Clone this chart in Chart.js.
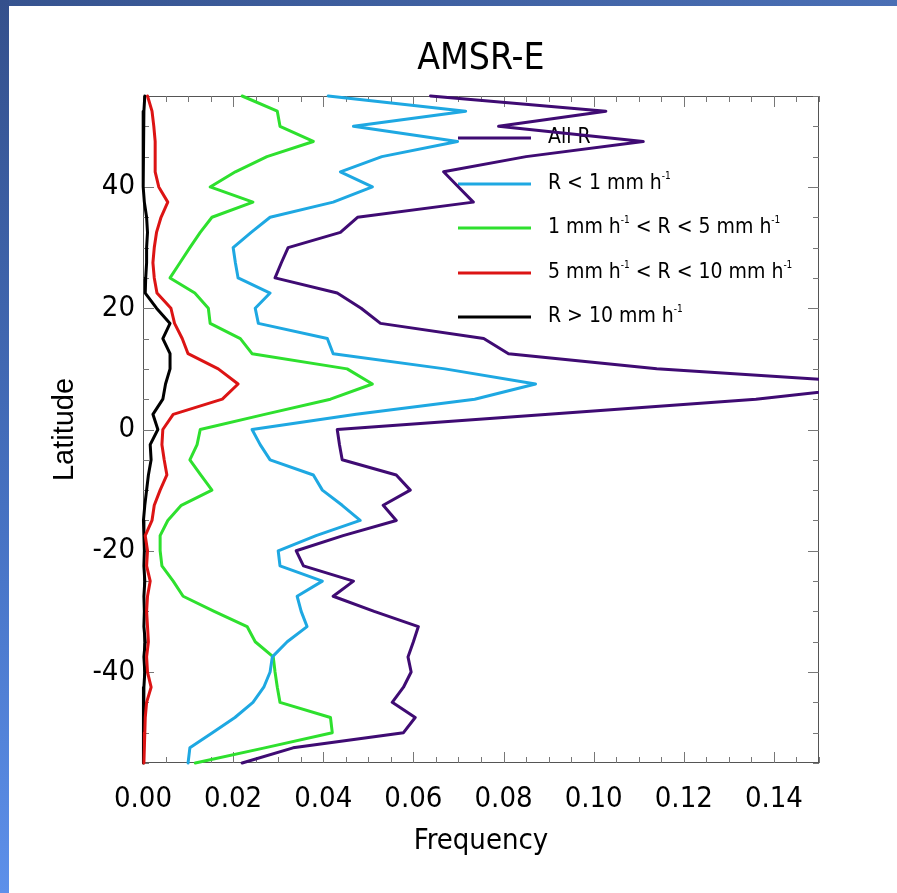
<!DOCTYPE html>
<html>
<head>
<meta charset="utf-8">
<script src="https://cdn.jsdelivr.net/npm/chart.js@4.4.1/dist/chart.umd.min.js"></script>
<style>
  html, body { margin: 0; padding: 0; background: #ffffff; overflow: hidden; }
  #wrap { position: relative; width: 897px; height: 893px; background: #ffffff; }
  #c { position: absolute; left: 0; top: 0; }
  #topbar { position: absolute; left: 0; top: 0; width: 897px; height: 6px; background: linear-gradient(90deg, #36538f, #4a6fb5); }
  #leftbar { position: absolute; left: 0; top: 0; width: 9px; height: 893px; background: linear-gradient(180deg, #34508c, #4773c4 60%, #5d90ea); }
</style>
</head>
<body>
<div id="wrap">
  <canvas id="c" width="897" height="893"></canvas>
  <div id="topbar"></div>
  <div id="leftbar"></div>
</div>
<script>
// ---- Data ----
const latitudes = [55, 52.5, 50, 47.5, 45, 42.5, 40, 37.5, 35, 32.5, 30, 27.5, 25, 22.5, 20, 17.5, 15, 12.5, 10, 7.5, 5, 2.5, 0,
  -2.5, -5, -7.5, -10, -12.5, -15, -17.5, -20, -22.5, -25, -27.5, -30, -32.5, -35, -37.5, -40, -42.5, -45, -47.5, -50, -52.5, -55];

const freqAllR = [0.0638, 0.1027, 0.0789, 0.1110, 0.0850, 0.0667, 0.0700, 0.0733, 0.0476, 0.0438, 0.0322, 0.0307, 0.0293, 0.0431, 0.0484,
  0.0527, 0.0756, 0.0811, 0.1140, 0.1670, 0.1360, 0.0900, 0.0431, 0.0436, 0.0442, 0.0562, 0.0593, 0.0533, 0.0562, 0.0444,
  0.0340, 0.0356, 0.0467, 0.0422, 0.0513, 0.0611, 0.0600, 0.0588, 0.0595, 0.0578, 0.0553, 0.0604, 0.0578, 0.0333, 0.0220];

const freqLt1 = [0.0411, 0.0716, 0.0467, 0.0698, 0.0530, 0.0438, 0.0509, 0.0422, 0.0282, 0.0240, 0.0200, 0.0205, 0.0211, 0.0282, 0.0249,
  0.0256, 0.0409, 0.0422, 0.0670, 0.0871, 0.0736, 0.0473, 0.0242, 0.0260, 0.0282, 0.0378, 0.0398, 0.0442, 0.0482, 0.0384,
  0.0300, 0.0304, 0.0398, 0.0342, 0.0351, 0.0364, 0.0320, 0.0287, 0.0282, 0.0268, 0.0244, 0.0204, 0.0154, 0.0104, 0.0100];

const freq1to5 = [0.0220, 0.0298, 0.0304, 0.0378, 0.0275, 0.0205, 0.0149, 0.0244, 0.0153, 0.0127, 0.0104, 0.0082, 0.0060, 0.0115, 0.0145,
  0.0149, 0.0216, 0.0242, 0.0453, 0.0509, 0.0416, 0.0270, 0.0127, 0.0120, 0.0104, 0.0128, 0.0153, 0.0085, 0.0055, 0.0038,
  0.0038, 0.0042, 0.0067, 0.0089, 0.0158, 0.0231, 0.0249, 0.0289, 0.0293, 0.0298, 0.0304, 0.0416, 0.0420, 0.0270, 0.0116];

const freq5to10 = [0.0010, 0.0020, 0.0024, 0.0027, 0.0027, 0.0027, 0.0035, 0.0055, 0.0040, 0.0030, 0.0025, 0.0022, 0.0025, 0.0031, 0.0062,
  0.0070, 0.0087, 0.0100, 0.0167, 0.0211, 0.0176, 0.0067, 0.0044, 0.0042, 0.0047, 0.0053, 0.0038, 0.0025, 0.0020, 0.0005,
  0.0010, 0.0008, 0.0016, 0.0010, 0.0008, 0.0010, 0.0012, 0.0008, 0.0010, 0.0018, 0.0008, 0.0005, 0.0004, 0.0003, 0.0002];

const freqGt10 = [0.0004, 0.0002, 0.0001, 0.0000, 0.0000, 0.0000, 0.0001, 0.0003, 0.0008, 0.0010, 0.0008, 0.0008, 0.0006, 0.0005, 0.0030,
  0.0060, 0.0044, 0.0060, 0.0060, 0.0050, 0.0044, 0.0022, 0.0033, 0.0016, 0.0018, 0.0012, 0.0008, 0.0004, 0.0001, 0.0002,
  0.0003, 0.0002, 0.0004, 0.0002, 0.0003, 0.0002, 0.0005, 0.0002, 0.0004, 0.0002, 0.0002, 0.0001, 0.0001, 0.0001, 0.0000];

const xTickValues = [0.00, 0.02, 0.04, 0.06, 0.08, 0.10, 0.12, 0.14];
const yTickValues = [-40, -20, 0, 20, 40];

const seriesNames = ['All R', 'R < 1 mm h-1', '1 mm h-1 < R < 5 mm h-1', '5 mm h-1 < R < 10 mm h-1', 'R > 10 mm h-1'];
// legend labels as [text, superscript?] segments
const legendLabels = [
  [['All R', false]],
  [['R < 1 mm h', false], ['-1', true]],
  [['1 mm h', false], ['-1', true], [' < R < 5 mm h', false], ['-1', true]],
  [['5 mm h', false], ['-1', true], [' < R < 10 mm h', false], ['-1', true]],
  [['R > 10 mm h', false], ['-1', true]]
];
const seriesColors = ['#3f0b73', '#1ea8e2', '#2ee02e', '#dc1414', '#000000'];

const FONT = "'Liberation Sans Narrow', 'Arial Narrow', 'DejaVu Sans Condensed', 'Liberation Sans', sans-serif";

const seriesValues = [freqAllR, freqLt1, freq1to5, freq5to10, freqGt10];

const datasets = seriesValues.map((vals, i) => ({
  label: seriesNames[i],
  data: vals.map((v, k) => ({ x: v, y: latitudes[k] })),
  showLine: true,
  borderColor: seriesColors[i],
  backgroundColor: seriesColors[i],
  borderWidth: 3,
  borderJoinStyle: 'round',
  borderCapStyle: 'round',
  pointRadius: 0,
  pointHoverRadius: 0,
  fill: false,
  tension: 0,
  clip: { left: 3, right: 0, top: 3, bottom: 3 }
}));

const decorPlugin = {
  id: 'decor',
  beforeDatasetsDraw(chart) {
    const ctx = chart.ctx;
    const a = chart.chartArea;
    const xs = chart.scales.x, ys = chart.scales.y;
    ctx.save();
    // frame
    ctx.strokeStyle = '#555555';
    ctx.lineWidth = 1;
    ctx.strokeRect(a.left + 0.5, a.top + 0.5, a.right - a.left - 1, a.bottom - a.top - 1);
    // x ticks (bottom & top, pointing inward)
    ctx.strokeStyle = '#777777';
    for (let k = 0; k <= 30; k++) {
      const v = k * 0.005;
      const px = Math.round(xs.getPixelForValue(v)) + 0.5;
      const major = (k % 4 === 0);
      const len = major ? 11 : 6;
      ctx.beginPath();
      ctx.moveTo(px, a.bottom); ctx.lineTo(px, a.bottom - len);
      ctx.moveTo(px, a.top); ctx.lineTo(px, a.top + len);
      ctx.stroke();
    }
    // y ticks (left & right, pointing inward)
    for (let k = -11; k <= 11; k++) {
      const v = k * 5;
      const py = Math.round(ys.getPixelForValue(v)) + 0.5;
      const major = (k % 4 === 0);
      const len = major ? 11 : 6;
      ctx.beginPath();
      ctx.moveTo(a.left, py); ctx.lineTo(a.left + len, py);
      ctx.moveTo(a.right, py); ctx.lineTo(a.right - len, py);
      ctx.stroke();
    }
    // legend (drawn beneath the data lines)
    const lx0 = 458, lx1 = 531, tx = 548;
    const rowY = [138, 184, 228, 273, 317];
    legendLabels.forEach((segs, i) => {
      const y = rowY[i];
      ctx.strokeStyle = seriesColors[i];
      ctx.lineWidth = 3;
      ctx.beginPath();
      ctx.moveTo(lx0, y); ctx.lineTo(lx1, y);
      ctx.stroke();
      let x = tx;
      ctx.fillStyle = '#000000';
      ctx.textAlign = 'left';
      ctx.textBaseline = 'middle';
      segs.forEach(([t, sup]) => {
        if (sup) {
          ctx.font = '10px ' + FONT;
          ctx.fillText(t, x, y - 8);
        } else {
          ctx.font = '21px ' + FONT;
          ctx.fillText(t, x, y);
        }
        x += ctx.measureText(t).width;
      });
    });
    ctx.restore();
  }
};

new Chart(document.getElementById('c'), {
  type: 'scatter',
  data: { datasets },
  options: {
    responsive: false,
    devicePixelRatio: 1,
    animation: false,
    events: [],
    layout: { padding: { left: 0, right: 78, top: 0, bottom: 0 } },
    plugins: {
      legend: { display: false },
      tooltip: { enabled: false },
      title: {
        display: true,
        text: 'AMSR-E',
        fullSize: false,
        color: '#000000',
        font: { family: FONT, size: 37, weight: 'normal', lineHeight: 1.2 },
        padding: { top: 37, bottom: 14.6 }
      }
    },
    scales: {
      x: {
        type: 'linear',
        position: 'bottom',
        min: 0,
        max: 0.15,
        afterBuildTicks: (s) => { s.ticks = xTickValues.map(v => ({ value: v })); },
        afterFit: (s) => { s.height = 130; },
        grid: { display: false, drawTicks: false },
        border: { display: false },
        ticks: {
          padding: 19,
          color: '#000000',
          font: { family: FONT, size: 29 },
          maxRotation: 0,
          autoSkip: false,
          callback: (v) => Number(v).toFixed(2)
        },
        title: {
          display: true,
          text: 'Frequency',
          color: '#000000',
          font: { family: FONT, size: 29 },
          padding: { top: 0, bottom: 34 }
        }
      },
      y: {
        type: 'linear',
        position: 'left',
        min: -55,
        max: 55,
        afterBuildTicks: (s) => { s.ticks = yTickValues.map(v => ({ value: v })); },
        afterFit: (s) => { s.width = 143; },
        grid: { display: false, drawTicks: false },
        border: { display: false },
        ticks: {
          padding: 8,
          color: '#000000',
          font: { family: FONT, size: 29 },
          autoSkip: false,
          callback: (v) => String(v)
        },
        title: {
          display: true,
          text: 'Latitude',
          color: '#000000',
          font: { family: "'Liberation Sans', Arial, sans-serif", size: 29 },
          padding: { top: 48, bottom: 0 }
        }
      }
    }
  },
  plugins: [decorPlugin]
});
</script>
</body>
</html>
